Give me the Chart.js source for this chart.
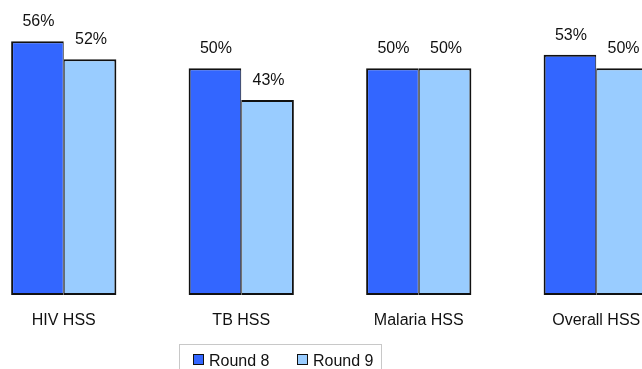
<!DOCTYPE html>
<html>
<head>
<meta charset="utf-8">
<script src="https://cdn.jsdelivr.net/npm/chart.js@4/dist/chart.umd.min.js"></script>
<style>
    html, body {
        margin: 0;
        padding: 0;
        width: 642px;
        height: 369px;
        overflow: hidden;
        background: #fff;
        font-family: "Liberation Sans", Arial, sans-serif;
    }
    #wrap {
        position: absolute;
        left: -25px;
        top: 0;
        width: 710px;
        height: 369px;
    }
    #legend {
        position: absolute;
        left: 179px;
        top: 344px;
        width: 203px;
        height: 40px;
        border: 1px solid #c8c8c8;
        box-sizing: border-box;
        font-size: 16px;
        color: #111;
    }
    #legend .item {
        position: absolute;
        top: 7px;
        line-height: 18px;
        white-space: nowrap;
    }
    #legend .swatch {
        display: inline-block;
        width: 9px;
        height: 9px;
        border: 1px solid #111;
        margin-right: 5px;
        vertical-align: 1px;
    }
</style>
</head>
<body>
<div id="wrap"><canvas id="chart"></canvas></div>
<div id="legend"></div>
<script>
// Chart data
const categories = ['HIV HSS', 'TB HSS', 'Malaria HSS', 'Overall HSS'];
const round8 = [56, 50, 50, 53];
const round9 = [52, 43, 50, 50];
const seriesNames = ['Round 8', 'Round 9'];
const seriesColors = ['#3366FF', '#99CCFF'];

const FONT = '"Liberation Sans", Arial, sans-serif';

// Percentage labels above each bar
const valueLabels = {
    id: 'valueLabels',
    afterDatasetsDraw(chart) {
        const ctx = chart.ctx;
        ctx.save();
        ctx.font = '16px ' + FONT;
        ctx.fillStyle = '#111';
        ctx.textAlign = 'center';
        ctx.textBaseline = 'alphabetic';
        chart.data.datasets.forEach((ds, i) => {
            chart.getDatasetMeta(i).data.forEach((bar, j) => {
                ctx.fillText(ds.data[j] + '%', bar.x + 1, bar.y - 15);
            });
        });
        ctx.restore();
    }
};

const ctx = document.getElementById('chart').getContext('2d');
const chart = new Chart(ctx, {
    type: 'bar',
    data: {
        labels: categories,
        datasets: [{
            label: seriesNames[0],
            data: round8,
            backgroundColor: seriesColors[0],
            borderColor: '#111',
            borderWidth: { top: 2, left: 2, bottom: 2, right: 1 },
            borderSkipped: false
        }, {
            label: seriesNames[1],
            data: round9,
            backgroundColor: seriesColors[1],
            borderColor: '#111',
            borderWidth: { top: 2, left: 1, bottom: 2, right: 2 },
            borderSkipped: false
        }]
    },
    options: {
        responsive: true,
        maintainAspectRatio: false,
        animation: false,
        layout: {
            padding: { top: 23, left: 0, right: 0, bottom: 0 }
        },
        categoryPercentage: 0.593,
        barPercentage: 1.0,
        plugins: {
            legend: { display: false },
            tooltip: { enabled: false }
        },
        scales: {
            x: {
                grid: { display: false, drawTicks: false },
                border: { display: false },
                ticks: {
                    color: '#111',
                    padding: 16,
                    font: { family: FONT, size: 16 }
                },
                afterFit(scale) {
                    scale.height = 74;
                }
            },
            y: {
                display: false,
                min: 0,
                max: 60
            }
        }
    },
    plugins: [valueLabels]
});

// Boxed legend below the chart
const legend = document.getElementById('legend');
const itemLeft = [13, 117];
seriesNames.forEach((name, i) => {
    const item = document.createElement('span');
    item.className = 'item';
    item.style.left = itemLeft[i] + 'px';
    item.innerHTML = '<span class="swatch" style="background:' + seriesColors[i] + '"></span>' + name;
    legend.appendChild(item);
});
</script>
</body>
</html>
